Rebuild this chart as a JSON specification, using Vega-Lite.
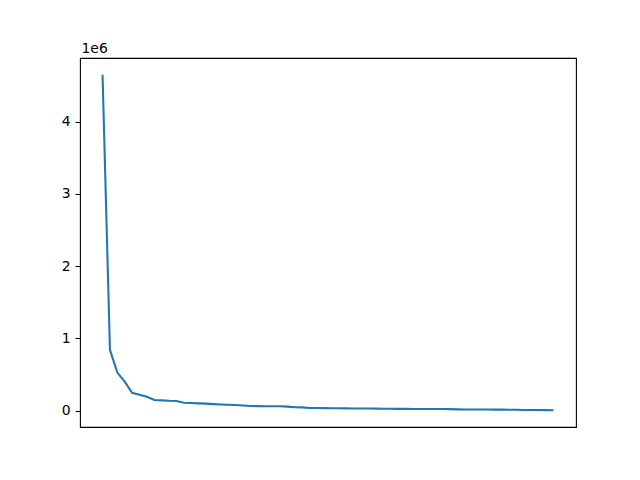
{
  "$schema": "https://vega.github.io/schema/vega-lite/v6.json",
  "autosize": {"type": "none"},
  "width": 496,
  "height": 369,
  "padding": {"left": 80, "top": 58, "right": 64, "bottom": 53},
  "background": "white",
  "config": {
    "view": {"stroke": "black", "strokeWidth": 1.1},
    "font": "DejaVu Sans"
  },
  "data": {
    "values": [
      {"i": 0, "v": 4650000}, {"i": 1, "v": 840000}, {"i": 2, "v": 525000},
      {"i": 3, "v": 400000}, {"i": 4, "v": 245000}, {"i": 5, "v": 220000},
      {"i": 6, "v": 190000}, {"i": 7, "v": 145000}, {"i": 8, "v": 140000},
      {"i": 9, "v": 135000}, {"i": 10, "v": 133000}, {"i": 11, "v": 108000},
      {"i": 12, "v": 104000}, {"i": 13, "v": 99000}, {"i": 14, "v": 95000},
      {"i": 15, "v": 89000}, {"i": 16, "v": 83000}, {"i": 17, "v": 79000},
      {"i": 18, "v": 76000}, {"i": 19, "v": 69000}, {"i": 20, "v": 63000},
      {"i": 21, "v": 61000}, {"i": 22, "v": 60000}, {"i": 23, "v": 59000},
      {"i": 24, "v": 58000}, {"i": 25, "v": 54000}, {"i": 26, "v": 46000},
      {"i": 27, "v": 44000}, {"i": 28, "v": 36000}, {"i": 29, "v": 34000},
      {"i": 30, "v": 33000}, {"i": 31, "v": 32000}, {"i": 32, "v": 31000},
      {"i": 33, "v": 30000}, {"i": 34, "v": 29000}, {"i": 35, "v": 28000},
      {"i": 36, "v": 27000}, {"i": 37, "v": 26000}, {"i": 38, "v": 25000},
      {"i": 39, "v": 24000}, {"i": 40, "v": 23000}, {"i": 41, "v": 23000},
      {"i": 42, "v": 22000}, {"i": 43, "v": 22000}, {"i": 44, "v": 21000},
      {"i": 45, "v": 21000}, {"i": 46, "v": 20000}, {"i": 47, "v": 19000},
      {"i": 48, "v": 16000}, {"i": 49, "v": 15000}, {"i": 50, "v": 14000},
      {"i": 51, "v": 13000}, {"i": 52, "v": 13000}, {"i": 53, "v": 12000},
      {"i": 54, "v": 12000}, {"i": 55, "v": 11000}, {"i": 56, "v": 10000},
      {"i": 57, "v": 8000}, {"i": 58, "v": 7000}, {"i": 59, "v": 6000},
      {"i": 60, "v": 5000}, {"i": 61, "v": 4000}
    ]
  },
  "mark": {"type": "line", "color": "#1f77b4", "strokeWidth": 2.08, "clip": true},
  "encoding": {
    "x": {
      "field": "i",
      "type": "quantitative",
      "scale": {"domain": [-3.05, 64.05], "nice": false, "zero": false},
      "axis": null
    },
    "y": {
      "field": "v",
      "type": "quantitative",
      "scale": {"domain": [-228300, 4882300], "nice": false, "zero": false},
      "axis": {
        "values": [0, 1000000, 2000000, 3000000, 4000000],
        "labelExpr": "format(datum.value / 1000000, 'd')",
        "grid": false,
        "domain": false,
        "ticks": true,
        "tickColor": "black",
        "tickSize": 4.9,
        "tickWidth": 1.1,
        "labelPadding": 4.9,
        "labelFontSize": 13.9,
        "labelColor": "black",
        "labelFont": "DejaVu Sans",
        "title": "1e6",
        "titleAngle": 0,
        "titleAlign": "left",
        "titleBaseline": "alphabetic",
        "titleX": 1,
        "titleY": -5.5,
        "titleFontSize": 13.9,
        "titleFontWeight": "normal",
        "titleColor": "black",
        "titleFont": "DejaVu Sans"
      }
    }
  }
}
